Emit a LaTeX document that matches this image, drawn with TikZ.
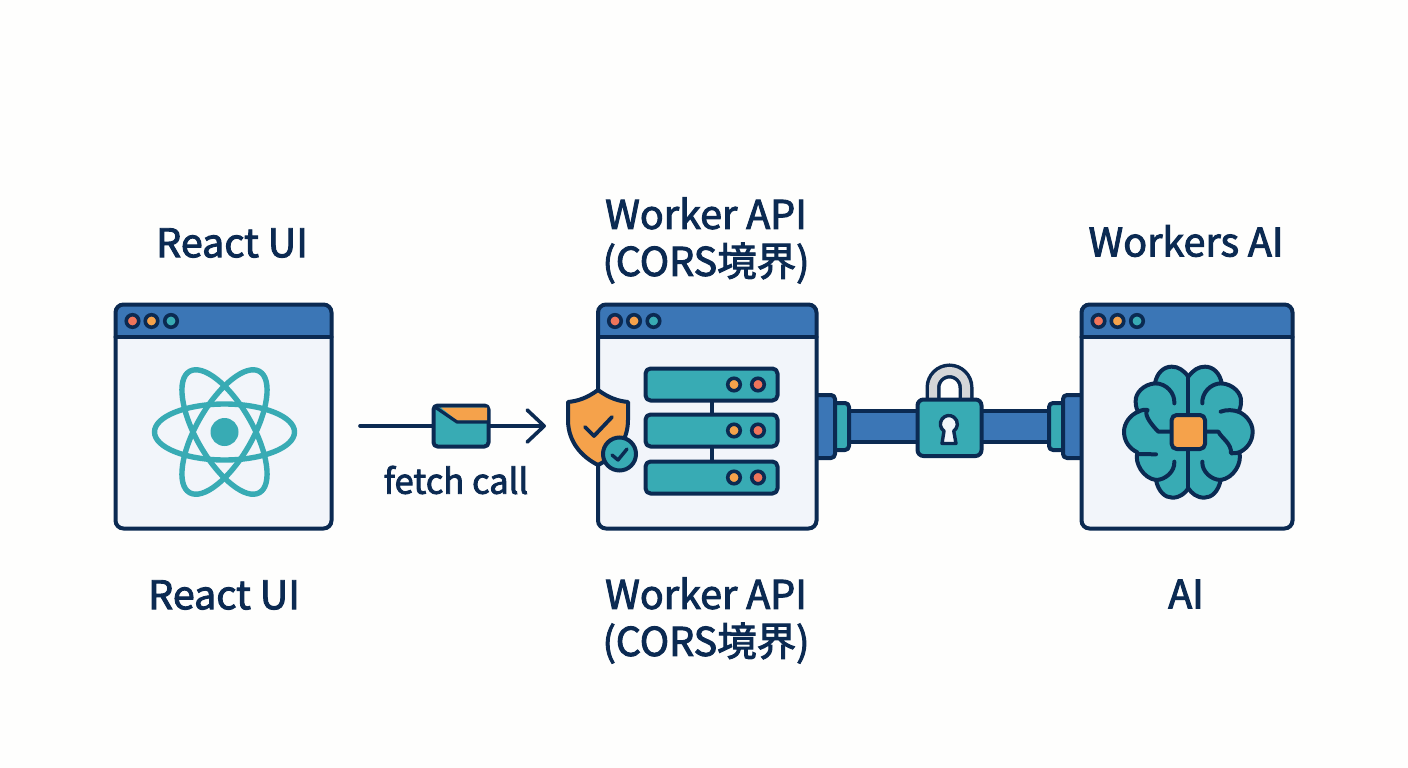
\documentclass[tikz,border=0pt]{standalone}
\usepackage{fontspec}
\setmainfont{Noto Sans CJK JP}[FakeBold=2.4]
\usetikzlibrary{arrows.meta}
\definecolor{ink}{HTML}{0B2A52}
\definecolor{barblue}{HTML}{3B76B6}
\definecolor{paneb}{HTML}{F2F5FA}
\definecolor{tealc}{HTML}{38ABB4}
\definecolor{orangec}{HTML}{F5A24B}
\definecolor{redc}{HTML}{F0745A}
\definecolor{paper}{HTML}{FEFEFD}
\definecolor{greyc}{HTML}{D4D6D8}
\tikzset{
  x=1pt,y=-1pt,
  outl/.style={draw=ink,line width=4pt,line join=round,line cap=round},
  label/.style={text=ink,font=\fontsize{39.5}{47}\selectfont,align=center,inner sep=0pt},
  pane/.style={fill=paneb,rounded corners=8pt,inner sep=0pt},
  dotc/.style={draw=ink,line width=3.6pt,circle,inner sep=0pt,minimum size=12.5pt},
  rack/.style={outl,fill=tealc,rounded corners=5pt},
  pipeb/.style={outl,fill=barblue,rounded corners=4pt},
  pipet/.style={outl,fill=tealc,rounded corners=4pt},
}
% #1 name, #2 x0, #3 y0, #4 x1, #5 y1
\newcommand{\appwin}[5]{%
  \path[pane] (#2,#3) rectangle (#4,#5);
  \path[fill=barblue,rounded corners=8pt] (#2,#3+17*2) -- (#2,#3) -- (#4,#3) -- (#4,#3+17*2) -- cycle;
  \path[fill=barblue] (#2+2,#3+20) rectangle (#4-2,#3+34);
  \draw[outl] (#2,#3+32.5) -- (#4,#3+32.5);
  \node[draw=ink,line width=4pt,rounded corners=8pt,inner sep=0pt,outer sep=0pt,minimum width=#4pt-#2pt,minimum height=#5pt-#3pt,anchor=north west] (#1) at (#2,#3) {};
  \node[dotc,fill=redc] (#1r) at (#2+17,#3+16.5) {};
  \node[dotc,fill=orangec] (#1o) at (#2+36,#3+16.5) {};
  \node[dotc,fill=tealc] (#1t) at (#2+55.5,#3+16.5) {};
}
\newcommand{\rackunit}[2]{%
  \path[rack] (645.5,#2) rectangle (777.5,#2+32);
  \node[dotc,fill=orangec] (#1a) at (734,#2+16) {};
  \node[dotc,fill=redc] (#1b) at (758,#2+16) {};
}
\begin{document}
\begin{tikzpicture}
\useasboundingbox[fill=paper] (0,0) rectangle (1408,768);
% labels
\node[label] (l1) at (232,243) {React UI};
\node[label] (l2) at (706,240.5) {Worker API\\(CORS境界)};
\node[label] (l3) at (1186,241) {Workers AI};
\node[label] (l4) at (224,595) {React UI};
\node[label] (l5) at (706,620.5) {Worker API\\(CORS境界)};
\node[label] (l6) at (1186,594) {AI};
% pipe (behind the windows)
\path[pipeb,rounded corners=0pt] (848,410.5) rectangle (1052,441.5);
\path[pipet] (825,403) rectangle (849,450);
\path[pipeb] (805,395) rectangle (835,458);
\path[pipet] (1049,403) rectangle (1075,450);
\path[pipeb] (1063,395) rectangle (1095,458);
% windows
\appwin{wa}{115.5}{304.5}{331.5}{528.5}
\appwin{wb}{598}{304.5}{816.5}{528.5}
\appwin{wc}{1081.5}{304.5}{1292.5}{528.5}
% react atom
\begin{scope}[shift={(224.5,432)}]
  \foreach \ang in {0,60,120}
    \draw[tealc,line width=5.4pt,rotate=\ang] (0,0) ellipse [x radius=70,y radius=28];
  \fill[tealc] (0,0) circle (14);
\end{scope}
% message arrow
\coordinate (from) at (360,426);
\coordinate (tip) at (546,426);
\node[draw=none,minimum width=58pt,minimum height=44pt,inner sep=0pt] (env) at (461,426) {};
\draw[ink,line width=3.6pt,line cap=round] (from) -- (env.west);
\draw[ink,line width=3.6pt,-{Straight Barb[length=17pt,width=32pt,round]}] (env.east) -- (tip);
\draw[outl,fill=tealc,rounded corners=4pt] (433.5,405.5) rectangle (488.5,446.5);
\path[fill=orangec] (441,407.5) -- (487,407.5) -- (487,420.5) -- (457,420.5) -- cycle;
\draw[ink,line width=3.2pt,line cap=round,line join=round] (435,407) -- (457,422) -- (488,422);
\node[text=ink,font=\fontsize{34.5}{38}\selectfont,inner sep=0pt] (fetch) at (456,480) {fetch call};
% server
\rackunit{ra}{368.5}
\rackunit{rb}{414.5}
\rackunit{rc}{461.5}
\draw[outl] (712,401) -- (712,414);
\draw[outl] (712,447) -- (712,461);
% shield
\draw[outl,fill=orangec] (598,390) .. controls (587,398) and (578,401) .. (568,402)
  -- (568,420) .. controls (568,442) and (582,457) .. (598,465)
  .. controls (614,457) and (628,442) .. (628,420) -- (628,402)
  .. controls (618,401) and (609,398) .. (598,390) -- cycle;
\draw[ink,line width=3.8pt,line cap=round,line join=round] (585,427) -- (594,436) -- (612,417);
\node[draw=ink,line width=4pt,fill=tealc,circle,inner sep=0pt,minimum size=33pt] (badge) at (619.5,454) {};
\draw[ink,line width=3.4pt,line cap=round,line join=round] (612,455) -- (618,460) -- (627,449);
% lock
\draw[ink,line width=15pt,line cap=butt] (933,400) -- (933,387.5) arc[start angle=180,end angle=360,radius=16.5] -- (966,400);
\draw[greyc,line width=8pt,line cap=butt] (933,400) -- (933,387.5) arc[start angle=180,end angle=360,radius=16.5] -- (966,400);
\draw[outl,fill=tealc,rounded corners=6pt] (917.5,399.5) rectangle (981.5,456);
\draw[ink,line width=3.4pt,fill=paneb,line join=round] (944,431) arc[start angle=125,end angle=415,radius=8.5] -- (956,443.5) -- (942,443.5) -- cycle;
% brain
\begin{scope}[shift={(1075,295)},scale=1/3]
  \path[outl,fill=tealc]
    (340,245) .. controls (325,225) and (310,215) .. (290,215)
    .. controls (265,215) and (245,235) .. (240,265)
    .. controls (205,268) and (180,295) .. (182,320)
    .. controls (182,335) and (186,345) .. (190,350)
    .. controls (165,360) and (147,385) .. (147,410)
    .. controls (147,440) and (165,462) .. (187,472)
    .. controls (178,505) and (205,550) .. (243,555)
    .. controls (250,590) and (270,608) .. (292,608)
    .. controls (315,608) and (330,595) .. (340,580)
    .. controls (350,595) and (365,608) .. (388,608)
    .. controls (410,608) and (430,590) .. (437,555)
    .. controls (475,550) and (502,505) .. (493,472)
    .. controls (515,462) and (533,440) .. (533,410)
    .. controls (533,385) and (515,360) .. (490,350)
    .. controls (494,345) and (498,335) .. (498,320)
    .. controls (500,295) and (475,268) .. (440,265)
    .. controls (435,235) and (415,215) .. (390,215)
    .. controls (370,215) and (355,225) .. (340,245) -- cycle;
  \draw[outl] (340,245) -- (340,355) (340,467) -- (340,580);
  \draw[outl] (240,265) .. controls (275,265) and (300,295) .. (298,325);
  \draw[outl] (440,265) .. controls (405,265) and (380,295) .. (382,325);
  \draw[outl] (190,350) .. controls (200,345) and (210,343) .. (218,345)
     .. controls (205,355) and (225,385) .. (250,410) -- (285,410);
  \draw[outl] (187,477) -- (243,478);
  \draw[outl] (298,500) .. controls (300,530) and (270,555) .. (243,555);
  \draw[outl] (382,500) .. controls (380,530) and (410,555) .. (437,555);
  \draw[outl] (437,350) .. controls (455,343) and (475,345) .. (490,350);
  \draw[outl] (395,410) -- (430,410) .. controls (440,430) and (470,445) .. (468,475) .. controls (478,475) and (487,474) .. (493,472);
  \draw[outl,fill=orangec,rounded corners=5pt] (290,360) rectangle (390,462);
\end{scope}
\end{tikzpicture}
\end{document}
